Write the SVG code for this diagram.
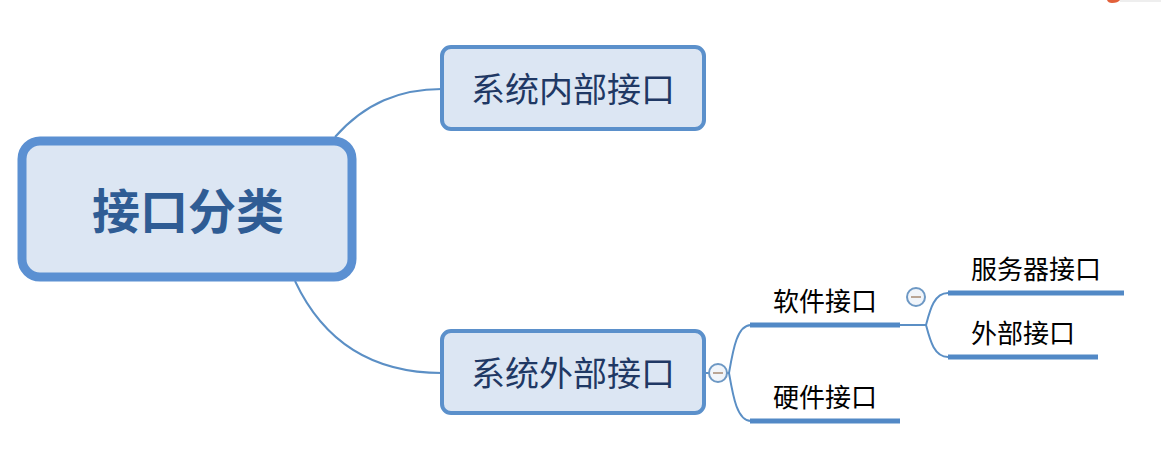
<svg xmlns="http://www.w3.org/2000/svg" width="1161" height="452" viewBox="0 0 1161 452">
<style>
text{font-family:"Noto Sans CJK SC","Liberation Sans",sans-serif}
.n{fill:#dce6f3;stroke:#5b90cb;stroke-width:4}
.t1{font-size:34px;fill:#1f3864;text-anchor:middle}
.t2{font-size:26px;fill:#000;text-anchor:middle}
.c{fill:none;stroke:#5b8fc5;stroke-width:2}
.b{fill:none;stroke:#5289c6;stroke-width:5}
.m{fill:#f1f5fa;stroke:#6d98c4;stroke-width:2}
.d{stroke:#b9a595;stroke-width:2}
</style>
<rect width="1161" height="452" fill="#fff"/>
<g id="connectors">
<path class="c" d="M335 137C365 103 400 89 442 89"/>
<path class="c" d="M295 281C325 345 375 373 442 373"/>
<path class="c" d="M705 373H729"/>
<path class="c" d="M729 373C733 350 737 325 751 325"/>
<path class="c" d="M729 373C733 396 737 421 751 421"/>
<path class="c" d="M899 325H926"/>
<path class="c" d="M926 325C930 310 934 293 948 293"/>
<path class="c" d="M926 325C930 340 934 357 948 357"/>
</g>
<g id="root">
<rect x="22" y="141" width="330" height="136" rx="18" fill="#dce6f3" stroke="#5b90d2" stroke-width="9"/>
<text x="188" y="229" font-size="48" font-weight="700" fill="#2f5c94" text-anchor="middle">接口分类</text>
</g>
<g id="internal">
<rect class="n" x="442" y="47" width="262" height="82" rx="9"/>
<text class="t1" x="573" y="102">系统内部接口</text>
</g>
<g id="external">
<rect class="n" x="442" y="331" width="262" height="82" rx="9"/>
<text class="t1" x="573" y="386">系统外部接口</text>
</g>
<g id="toggle-external">
<circle class="m" cx="718" cy="373" r="9"/>
<path class="d" d="M713 373H723"/>
</g>
<g id="software">
<path class="b" d="M750 325H900"/>
<text class="t2" x="825" y="311">软件接口</text>
</g>
<g id="hardware">
<path class="b" d="M750 421H900"/>
<text class="t2" x="825" y="407">硬件接口</text>
</g>
<g id="toggle-software">
<circle class="m" cx="916" cy="297" r="9"/>
<path class="d" d="M911 297H921"/>
</g>
<g id="server">
<path class="b" d="M948 293H1124"/>
<text class="t2" x="1036" y="279">服务器接口</text>
</g>
<g id="outer">
<path class="b" d="M948 357H1098"/>
<text class="t2" x="1023" y="343">外部接口</text>
</g>
<path d="M1107 0H1120Q1118 3 1112 3Q1108 3 1107 0Z" fill="#e2603a"/>
<path d="M1120 1H1161" stroke="#ddd" stroke-width="1"/>
</svg>
